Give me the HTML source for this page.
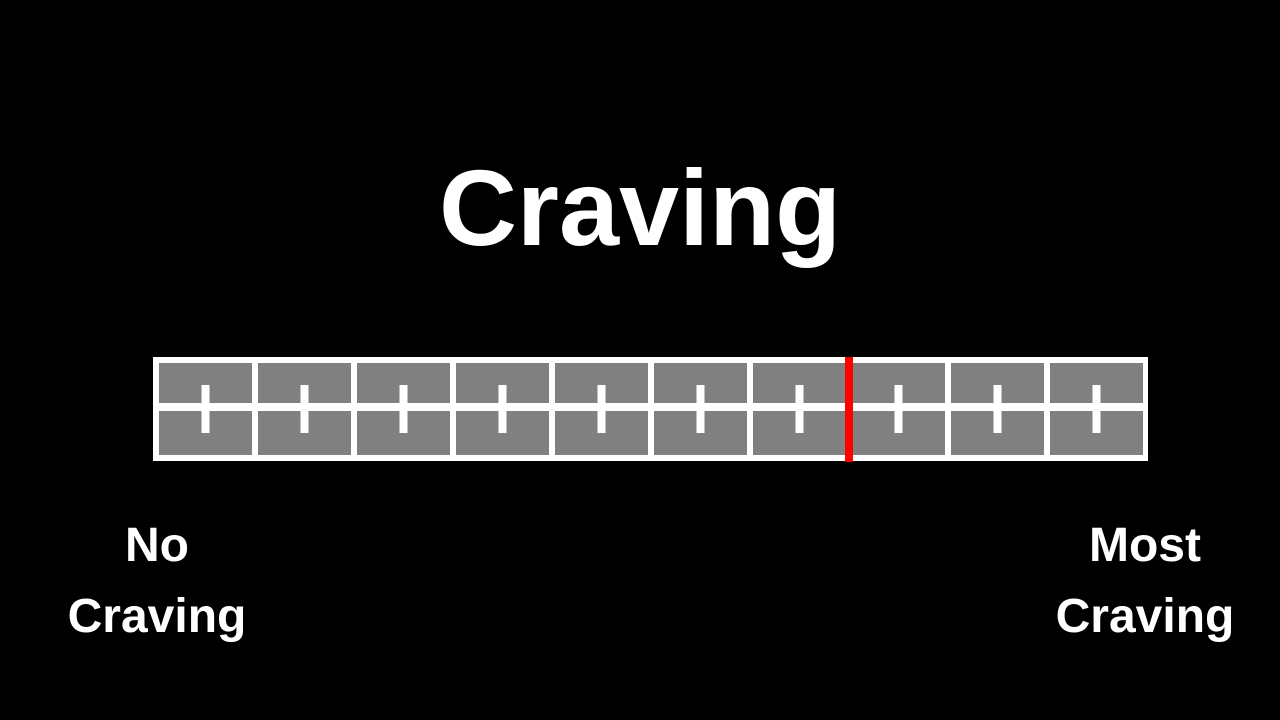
<!DOCTYPE html>
<html><head><meta charset="utf-8">
<style>
html,body{margin:0;padding:0;background:#000;}
body{width:1280px;height:720px;overflow:hidden;position:relative;font-family:"Liberation Sans",sans-serif;}
</style></head>
<body>
<svg id="chart" width="1280" height="720" viewBox="0 0 1280 720" xmlns="http://www.w3.org/2000/svg" style="display:block">
  <rect x="0" y="0" width="1280" height="720" fill="#000"/>
  <text x="640" y="245" text-anchor="middle" fill="#fff" font-family="Liberation Sans, sans-serif" font-weight="bold" font-size="108">Craving</text>
  <g id="scale"></g>
  <g fill="#fff" font-family="Liberation Sans, sans-serif" font-weight="bold" font-size="48" text-anchor="middle">
    <text x="157" y="561">No</text>
    <text x="157" y="632">Craving</text>
  </g>
  <g fill="#fff" font-family="Liberation Sans, sans-serif" font-weight="bold" font-size="48" text-anchor="middle">
    <text x="1145" y="561">Most</text>
    <text x="1145" y="632">Craving</text>
  </g>
</svg>
<script>
const scaleMin = [0];
const scaleMax = [10];
const cellCount = [10];
const markerValue = [7];

const NS = "http://www.w3.org/2000/svg";
const scaleGroup = document.getElementById('scale');
const scaleLeft = 156, scaleRight = 1146, scaleTop = 357, scaleBottom = 461;
function xScale(v){ return scaleLeft + (v - scaleMin[0]) / (scaleMax[0] - scaleMin[0]) * (scaleRight - scaleLeft); }
function mk(tag, attrs){ const e = document.createElementNS(NS, tag); for (const k in attrs) e.setAttribute(k, attrs[k]); scaleGroup.appendChild(e); return e; }

const frame = mk('rect', {x:153, y:scaleTop, width:995, height:scaleBottom-scaleTop, fill:'#fff'});



const n = cellCount[0];
const step = (scaleMax[0] - scaleMin[0]) / n;
for (let i = 0; i < n; i++) {
  const x0 = xScale(scaleMin[0] + i*step) + 3;
  const x1 = xScale(scaleMin[0] + (i+1)*step) - 3;
  const top1 = mk('rect', {x:x0, y:363, width:x1-x0, height:40, fill:'#808080'});
  
  
  const bot1 = mk('rect', {x:x0, y:411, width:x1-x0, height:44, fill:'#808080'});
  
  
  const cx = (x0 + x1) / 2;
  const tick = mk('rect', {x:cx-4, y:385, width:8, height:48, fill:'#fff'});
  
  
}

const mx = xScale(markerValue[0]);
const marker = mk('rect', {x:mx-4, y:357, width:8, height:105, fill:'#ff0000'});


</script>
</body></html>
